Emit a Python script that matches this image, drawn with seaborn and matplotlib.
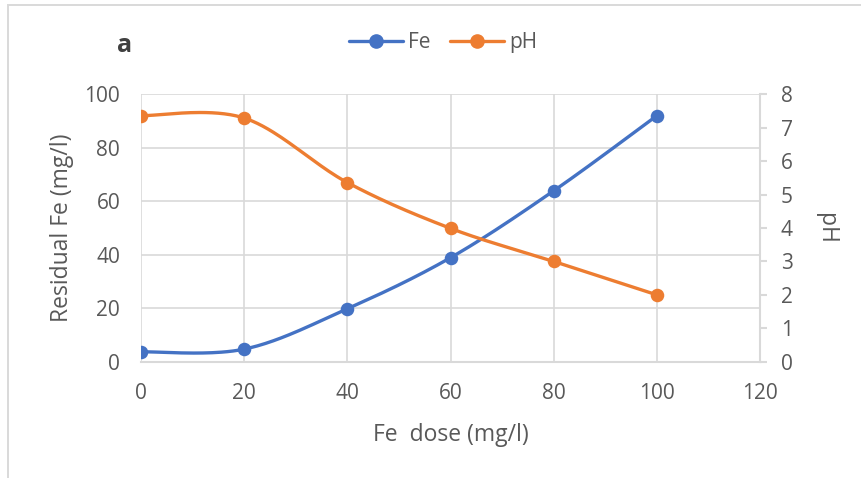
import numpy as np
import pandas as pd
import matplotlib
matplotlib.use("Agg")
import matplotlib.pyplot as plt
import seaborn as sns
from matplotlib.lines import Line2D
from matplotlib.patches import Rectangle

# Data
dose = [0, 20, 40, 60, 80, 100]
fe_residual = [3.7, 4.7, 19.8, 38.9, 63.9, 92.0]
ph_values = [7.36, 7.29, 5.36, 3.99, 3.0, 2.0]

BLUE = "#4472C4"
ORANGE = "#ED7D31"
GRID = "#D9D9D9"
TXT = "#595959"

sns.set_theme(style="white")
plt.rcParams['font.family'] = ['Open Sans', 'DejaVu Sans']


def excel_smooth(x, y, n=40):
    """Excel-style smoothed line (cubic Bezier, Catmull-Rom control points)."""
    pts = np.column_stack([x, y]).astype(float)
    out = []
    m = len(pts)
    for i in range(m - 1):
        p0 = pts[i - 1] if i > 0 else pts[i]
        p1 = pts[i]
        p2 = pts[i + 1]
        p3 = pts[i + 2] if i + 2 < m else pts[i + 1]
        c1 = p1 + (p2 - p0) / 6.0
        c2 = p2 - (p3 - p1) / 6.0
        t = np.linspace(0, 1, n)[:, None]
        seg = ((1 - t) ** 3) * p1 + 3 * ((1 - t) ** 2) * t * c1 + 3 * (1 - t) * t ** 2 * c2 + t ** 3 * p2
        if i > 0:
            seg = seg[1:]
        out.append(seg)
    out = np.vstack(out)
    return out[:, 0], out[:, 1]


fig = plt.figure(figsize=(8.61, 4.78), dpi=100)
ax = fig.add_axes([0.1638, 0.2433, 0.7189, 0.5594])
ax2 = ax.twinx()

fx, fy = excel_smooth(dose, fe_residual)
px, py = excel_smooth(dose, ph_values)

sm_fe = pd.DataFrame({"x": fx, "y": fy})
sm_ph = pd.DataFrame({"x": px, "y": py})
df_fe = pd.DataFrame({"dose": dose, "val": fe_residual})
df_ph = pd.DataFrame({"dose": dose, "val": ph_values})

sns.lineplot(data=sm_fe, x="x", y="y", ax=ax, color=BLUE, lw=2.4, sort=False, estimator=None, zorder=3)
sns.scatterplot(data=df_fe, x="dose", y="val", ax=ax, color=BLUE, s=95, edgecolor=BLUE, linewidth=0, zorder=4)
sns.lineplot(data=sm_ph, x="x", y="y", ax=ax2, color=ORANGE, lw=2.4, sort=False, estimator=None, zorder=3)
sns.scatterplot(data=df_ph, x="dose", y="val", ax=ax2, color=ORANGE, s=95, edgecolor=ORANGE, linewidth=0, zorder=4)

ax.set_xlim(0, 120)
ax.set_ylim(0, 100)
ax2.set_ylim(0, 8)
ax.set_xticks(range(0, 121, 20))
ax.set_yticks(range(0, 101, 20))
ax2.set_yticks(range(0, 9, 1))

ax.grid(True, color=GRID, lw=1.2)
ax.set_axisbelow(True)
for a in (ax, ax2):
    for s in a.spines.values():
        s.set_visible(False)
ax2.spines['right'].set_visible(True)
ax2.spines['right'].set_color(GRID)
ax2.spines['right'].set_linewidth(1.5)
ax.spines['bottom'].set_visible(True)
ax.spines['bottom'].set_color(GRID)
ax.spines['bottom'].set_linewidth(1.5)

ax.tick_params(axis='y', labelsize=15, colors=TXT, length=0, pad=15)
ax.tick_params(axis='x', labelsize=15, colors=TXT, length=0, pad=15)
ax2.tick_params(axis='y', labelsize=15, colors=TXT, length=5, width=1.5, color=GRID, direction='out', pad=10)

ax.set_xlabel("Fe  dose (mg/l)", fontsize=16.5, color=TXT)
ax.xaxis.set_label_coords(0.5, -0.274)
ax.xaxis.label.set_va('center')
ax.set_ylabel("Residual Fe (mg/l)", fontsize=16.5, color=TXT)
ax.yaxis.set_label_coords(-0.127, 0.502)
ax.yaxis.label.set_va('center')
ax2.set_ylabel("pH", fontsize=16.5, color=TXT, rotation=270)
ax2.yaxis.set_label_coords(1.1066, 0.5)
ax2.yaxis.label.set_va('center')

handles = [
    Line2D([0], [0], color=BLUE, lw=2.4, marker='o', markersize=9.5),
    Line2D([0], [0], color=ORANGE, lw=2.4, marker='o', markersize=9.5),
]
fig.legend(handles, ["Fe", "pH"], loc='center', bbox_to_anchor=(0.5145, 0.9115), ncol=2,
           frameon=False, fontsize=15, labelcolor=TXT, handlelength=2.6, handletextpad=0.25,
           columnspacing=0.9)

fig.text(0.145, 0.904, "a", fontsize=18, fontweight='bold', color="#404040", ha='center', va='center')

fig.patches.append(Rectangle((0.0095, -0.1), 1.5, 1.09, transform=fig.transFigure,
                             fill=False, edgecolor="#D9D9D9", lw=1.4))

fig.savefig("out.png", dpi=100)
